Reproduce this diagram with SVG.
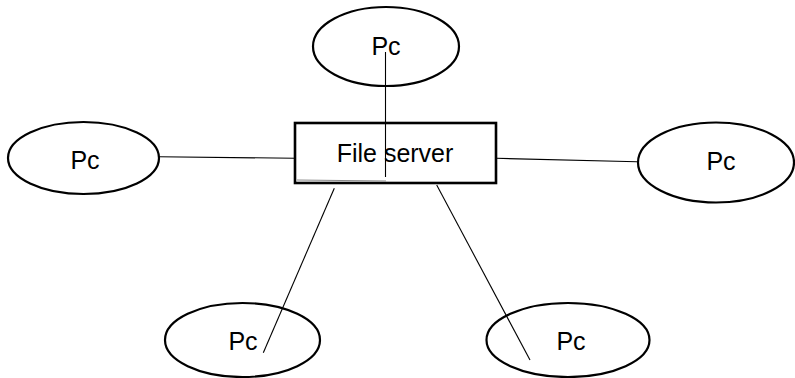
<svg xmlns="http://www.w3.org/2000/svg" width="795" height="378" viewBox="0 0 795 378">
  <style>
    .pc { fill: #ffffff; stroke: #000000; stroke-width: 2.2; }
    .box { fill: #ffffff; stroke: #000000; stroke-width: 2.6; }
    .link { stroke: #000000; stroke-width: 1.1; fill: none; }
    .lbl { font-family: "Liberation Sans", Arial, sans-serif; font-size: 25px; fill: #000000; text-anchor: middle; }
  </style>
  <rect width="795" height="378" fill="#ffffff"/>

  <!-- workstations -->
  <g id="pc-top">
    <ellipse class="pc" cx="386" cy="46.5" rx="73" ry="39.5"/>
    <text class="lbl" x="386" y="55">Pc</text>
  </g>
  <g id="pc-left">
    <ellipse class="pc" cx="83.5" cy="158" rx="75.5" ry="36"/>
    <text class="lbl" x="85" y="169">Pc</text>
  </g>
  <g id="pc-right">
    <ellipse class="pc" cx="716" cy="162.5" rx="78" ry="40"/>
    <text class="lbl" x="721" y="170">Pc</text>
  </g>
  <g id="pc-bottom-left">
    <ellipse class="pc" cx="242.5" cy="340" rx="77.5" ry="37"/>
    <text class="lbl" x="243" y="350">Pc</text>
  </g>
  <g id="pc-bottom-right">
    <ellipse class="pc" cx="568" cy="340" rx="81.5" ry="37"/>
    <text class="lbl" x="571" y="350">Pc</text>
  </g>

  <!-- central server -->
  <g id="file-server">
    <rect class="box" x="295" y="123" width="201" height="60"/>
    <line x1="297" y1="180" x2="386" y2="181" stroke="#888888" stroke-width="1"/>
    <text class="lbl" x="395" y="162">File server</text>
  </g>

  <!-- cabling -->
  <g id="connectors">
    <line class="link" x1="385.5" y1="52" x2="385.5" y2="177"/>
    <line class="link" x1="159" y1="156.7" x2="295" y2="158.3"/>
    <line class="link" x1="496" y1="158.3" x2="637" y2="161.7"/>
    <line class="link" x1="334.3" y1="188.3" x2="263.3" y2="352.7"/>
    <line class="link" x1="436.7" y1="185" x2="530" y2="360"/>
  </g>
</svg>
